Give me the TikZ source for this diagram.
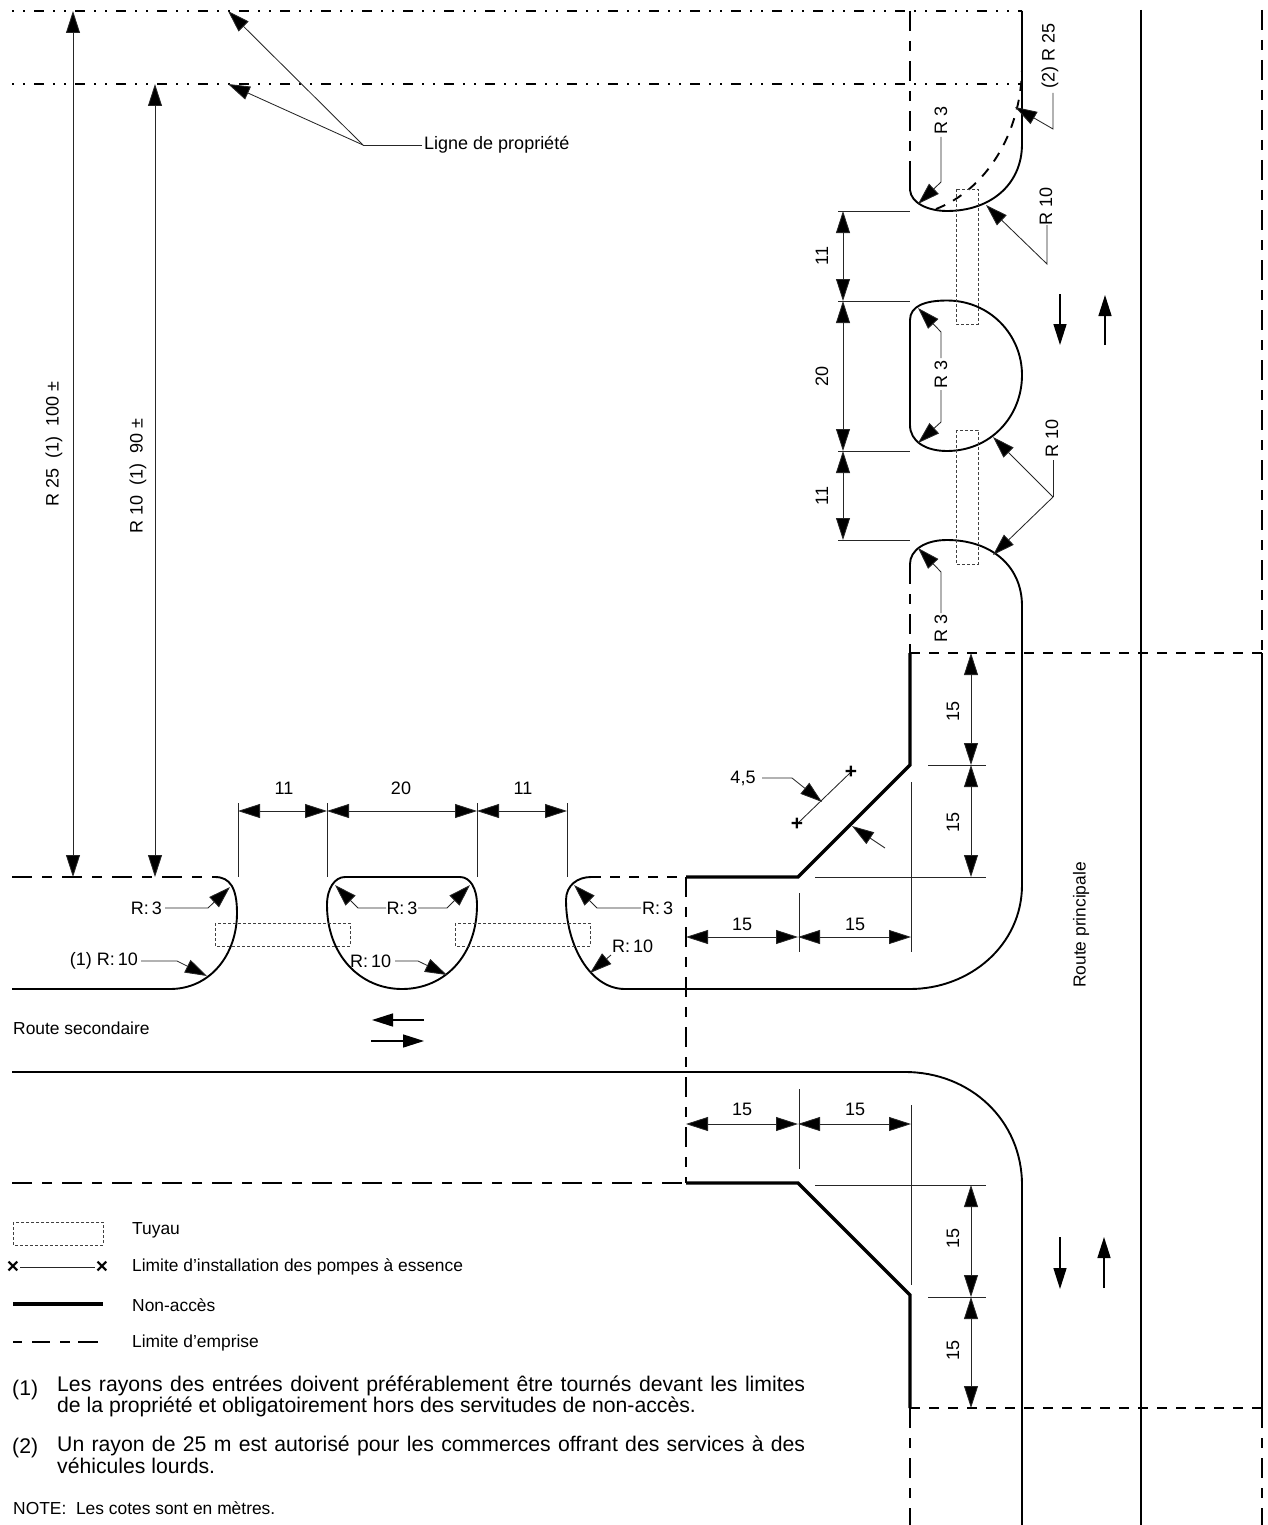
\documentclass[tikz,border=0pt]{standalone}
\usepackage{fontspec}
\setmainfont{Liberation Sans}
\usetikzlibrary{arrows.meta}
\newcommand{\rc}{R:\kern3pt }
\tikzset{
  road/.style={line width=1.9pt},
  thickline/.style={line width=3.4pt},
  thinl/.style={line width=0.85pt,draw=black!85},
  dim/.style={thinl,{Triangle[length=22pt,width=14pt,fill=black]}-{Triangle[length=22pt,width=14pt,fill=black]}},
  lead/.style={thinl,-{Triangle[length=22pt,width=14pt,fill=black]}},
  flow/.style={line width=1.5pt,-{Triangle[length=21pt,width=13pt,fill=black]}},
  emprise/.style={line width=1.9pt,dash pattern=on 20pt off 10pt on 10pt off 10pt},
  emprisb/.style={line width=1.9pt,dash pattern=on 10pt off 9pt},
  propline/.style={line width=1.4pt,dash pattern=on 2pt off 9pt on 2pt off 9pt on 10pt off 9pt},
  tuyau/.style={line width=0.8pt,draw=black!75,dash pattern=on 3pt off 2pt},
  txt/.style={font=\fontsize{18}{18}\selectfont,inner sep=0pt},
  stxt/.style={font=\fontsize{17.4}{18}\selectfont,inner sep=0pt},
  ntxt/.style={font=\fontsize{21.2}{20}\selectfont,inner sep=0pt},
  rtxt/.style={txt,rotate=90},
  crossmark/.style={font=\fontsize{21}{21}\bfseries\selectfont,inner sep=0pt}
}
\begin{document}
\begin{tikzpicture}[x=1pt,y=-1pt]
\useasboundingbox (0,0) rectangle (1267,1525);
% property lines
\draw[propline] (12,11) -- (1022,11);
\draw[propline] (12,84) -- (1022,84);
% far-right lines
\draw[road] (1141,10) -- (1141,1525);
\draw[emprise] (1262,10) -- (1262,653);
\draw[road,line width=2.4pt] (1262,653) -- (1262,1408);
\draw[emprise] (1262,1408) -- (1262,1525);
\draw[emprisb] (910,653) -- (1262,653);
\draw[emprisb] (910,1408) -- (1262,1408);
\draw[emprise] (910,11) -- (910,176);
\draw[emprise] (910,564) -- (910,653);
\draw[emprise] (910,1408) -- (910,1525);
% top island
\draw[road] (910,176) -- (910,190) .. controls (911,203) and (928,211) .. (947,211)
  .. controls (990,211) and (1022,185) .. (1022,144) -- (1022,11);
\draw[road,dash pattern=on 10pt off 9pt] (936,209) .. controls (985,190) and (1021,135) .. (1022,68);
% median island
\draw[road] (947,300.5) .. controls (925,300.5) and (910,306) .. (910,320) -- (910,425)
  .. controls (910,441) and (925,451) .. (947,451)
  .. controls (990,451) and (1022,417) .. (1022,375)
  .. controls (1022,335) and (990,300.5) .. (947,300.5) -- cycle;
% big road edge
\draw[road] (910,564) .. controls (910,550) and (925,540) .. (947,540)
  .. controls (990,540) and (1022,565) .. (1022,606) -- (1022,885)
  .. controls (1022,945) and (970,989) .. (910,989) -- (625,989)
  .. controls (590,989) and (566,945) .. (566,900)
  .. controls (566,885) and (578,877) .. (591,877);
\draw[emprisb] (591,877) -- (686,877);
\draw[emprise] (686,877) -- (686,1183);
\draw[thickline,line join=miter] (686,877) -- (798,877) -- (910,765) -- (910,653);
\draw[thickline,line join=miter] (686,1183) -- (798,1183) -- (910,1295) -- (910,1408);
\draw[emprise] (12,1183) -- (686,1183);
% lower edge
\draw[road] (12,1072) -- (905,1072) .. controls (970,1072) and (1022,1120) .. (1022,1185) -- (1022,1525);
% left corner
\draw[emprise] (12,877) -- (215,877);
\draw[road] (215,877) .. controls (230,877) and (237,888) .. (237,913)
  .. controls (237,955) and (210,989) .. (170,989) -- (12,989);
% middle island
\draw[road] (345,877) -- (460,877) .. controls (470,877) and (477,888) .. (477,905)
  .. controls (477,955) and (445,989) .. (402,989)
  .. controls (360,989) and (327,955) .. (327,905)
  .. controls (327,888) and (335,877) .. (345,877) -- cycle;
% pipes
\draw[tuyau] (215,923) rectangle (350,946);
\draw[tuyau] (455,923) rectangle (590,946);
\draw[tuyau] (956,189) rectangle (978,324);
\draw[tuyau] (956,430) rectangle (978,564);
% long dims
\draw[dim] (73,11) -- (73,877);
\draw[dim] (155,84) -- (155,877);
\node[rtxt] at (54,444) {R 25\ \ (1)\ \ 100 ±};
\node[rtxt] at (138,476) {R 10\ \ (1)\ \ 90 ±};
% ligne de propriete
\coordinate (lp) at (363,145);
\draw[lead] (lp) -- (228,11);
\draw[lead] (lp) -- (228,84);
\draw[thinl] (lp) -- (422,145);
\node[txt,anchor=west] at (424,145) {Ligne de propriété};
% horizontal dims
\draw[thinl] (238,803) -- (238,877) (327,803) -- (327,877) (477,803) -- (477,877) (567,803) -- (567,877);
\draw[dim] (238,811) -- (327,811);
\draw[dim] (327,811) -- (477,811);
\draw[dim] (477,811) -- (567,811);
\node[txt] at (284,788) {11};
\node[txt] at (401,788) {20};
\node[txt] at (523,788) {11};
% vertical dims upper
\draw[thinl] (838,211) -- (910,211) (838,301) -- (910,301) (838,451) -- (910,451) (838,540) -- (910,540);
\draw[dim] (843,211) -- (843,301);
\draw[dim] (843,301) -- (843,451);
\draw[dim] (843,451) -- (843,540);
\node[rtxt] at (822,256) {11};
\node[rtxt] at (822,376) {20};
\node[rtxt] at (822,496) {11};
% R labels upper right
\draw[lead] (941,137) -- (941,182) -- (918,204);
\node[rtxt] at (941,120) {R 3};
\draw[lead] (1053,93) -- (1053,129) -- (1015,107);
\node[rtxt] at (1050,56) {(2) R 25};
\draw[lead] (1047,225) -- (1047,264) -- (986,205);
\node[rtxt] at (1046,206) {R 10};
\draw[lead] (941,358) -- (941,332) -- (918,308);
\draw[lead] (941,390) -- (941,422) -- (918,443);
\node[rtxt] at (941,374) {R 3};
\draw[thinl] (1053,460) -- (1053,497);
\draw[lead] (1053,497) -- (993,437);
\draw[lead] (1053,497) -- (993,555);
\node[rtxt] at (1052,438) {R 10};
\draw[lead] (941,613) -- (941,572) -- (918,548);
\node[rtxt] at (941,628) {R 3};
% middle dims
\draw[dim] (971,653) -- (971,765);
\draw[dim] (971,765) -- (971,877);
\draw[thinl] (928,765) -- (986,765) (815,877) -- (986,877);
\draw[thinl] (911,782) -- (911,952) (799,893) -- (799,952);
\draw[dim] (686,937) -- (798,937);
\draw[dim] (798,937) -- (911,937);
\node[rtxt] at (953,711) {15};
\node[rtxt] at (953,822) {15};
\node[txt] at (742,924) {15};
\node[txt] at (855,924) {15};
% lower dims
\draw[dim] (686,1124) -- (798,1124);
\draw[dim] (798,1124) -- (911,1124);
\draw[thinl] (799,1089) -- (799,1169) (911,1105) -- (911,1285);
\draw[thinl] (815,1185) -- (986,1185) (928,1297) -- (986,1297);
\draw[dim] (971,1185) -- (971,1297);
\draw[dim] (971,1297) -- (971,1408);
\node[rtxt] at (953,1238) {15};
\node[rtxt] at (953,1350) {15};
\node[txt] at (742,1109) {15};
\node[txt] at (855,1109) {15};
% 4,5
\node[txt] at (743,778) {4,5};
\draw[lead] (762,778) -- (792,778) -- (822,802);
\draw[thinl] (797,824) -- (851,772);
\node[crossmark] at (797,824) {+};
\node[crossmark] at (851,772) {+};
\draw[lead] (885,848) -- (852,826);
% R labels left
\node[txt,anchor=east] at (162,908) {\rc 3};
\draw[lead] (165,908) -- (208,908) -- (230,887);
\node[txt,anchor=east] at (138,961) {(1) \rc 10};
\draw[lead] (141,961) -- (177,961) -- (207,976);
\node[txt] at (402,908) {\rc 3};
\draw[lead] (386,908) -- (358,908) -- (335,885);
\draw[lead] (418,908) -- (447,908) -- (470,885);
\node[txt,anchor=west] at (350,961) {\rc 10};
\draw[lead] (395,961) -- (418,961) -- (447,975);
\node[txt,anchor=west] at (642,908) {\rc 3};
\draw[lead] (641,908) -- (597,908) -- (574,885);
\node[txt,anchor=west] at (612,946) {\rc 10};
\draw[lead] (611,955) -- (590,973);
% flows
\draw[flow] (424,1020) -- (372,1020);
\draw[flow] (371,1041) -- (424,1041);
\draw[flow] (1060,294) -- (1060,345);
\draw[flow] (1105,345) -- (1105,295);
\draw[flow] (1060,1237) -- (1060,1289);
\draw[flow] (1104,1288) -- (1104,1237);
% road names
\node[stxt,anchor=west] at (13,1028) {Route secondaire};
\node[stxt,rotate=90] at (1081,925) {Route principale};
% legend
\draw[tuyau] (13,1222) rectangle (103,1245);
\draw[thinl] (20,1267) -- (95,1267);
\node[crossmark] at (13,1267) {×};
\node[crossmark] at (102,1267) {×};
\draw[thickline] (13,1304) -- (103,1304);
\draw[road,dash pattern=on 9pt off 10pt on 18pt off 10pt on 10pt off 8pt on 20pt off 50pt] (13,1342) -- (98,1342);
\node[stxt,anchor=west] at (132,1230) {Tuyau};
\node[stxt,anchor=west] at (132,1267) {Limite d'installation des pompes à essence};
\node[stxt,anchor=west] at (132,1305) {Non-accès};
\node[stxt,anchor=west] at (132,1343) {Limite d'emprise};
% notes
\node[ntxt,anchor=west] at (12,1390) {(1)};
\node[ntxt,anchor=west] at (57,1386) {\makebox[748pt][s]{Les rayons des entrées doivent préférablement être tournés devant les limites}};
\node[ntxt,anchor=west] at (57,1407) {de la propriété et obligatoirement hors des servitudes de non-accès.};
\node[ntxt,anchor=west] at (12,1448) {(2)};
\node[ntxt,anchor=west] at (57,1446) {\makebox[748pt][s]{Un rayon de 25 m est autorisé pour les commerces offrant des services à des}};
\node[ntxt,anchor=west] at (57,1466) {véhicules lourds.};
\node[stxt,anchor=west] at (13,1508) {NOTE:\ \ Les cotes sont en mètres.};
\end{tikzpicture}
\end{document}
